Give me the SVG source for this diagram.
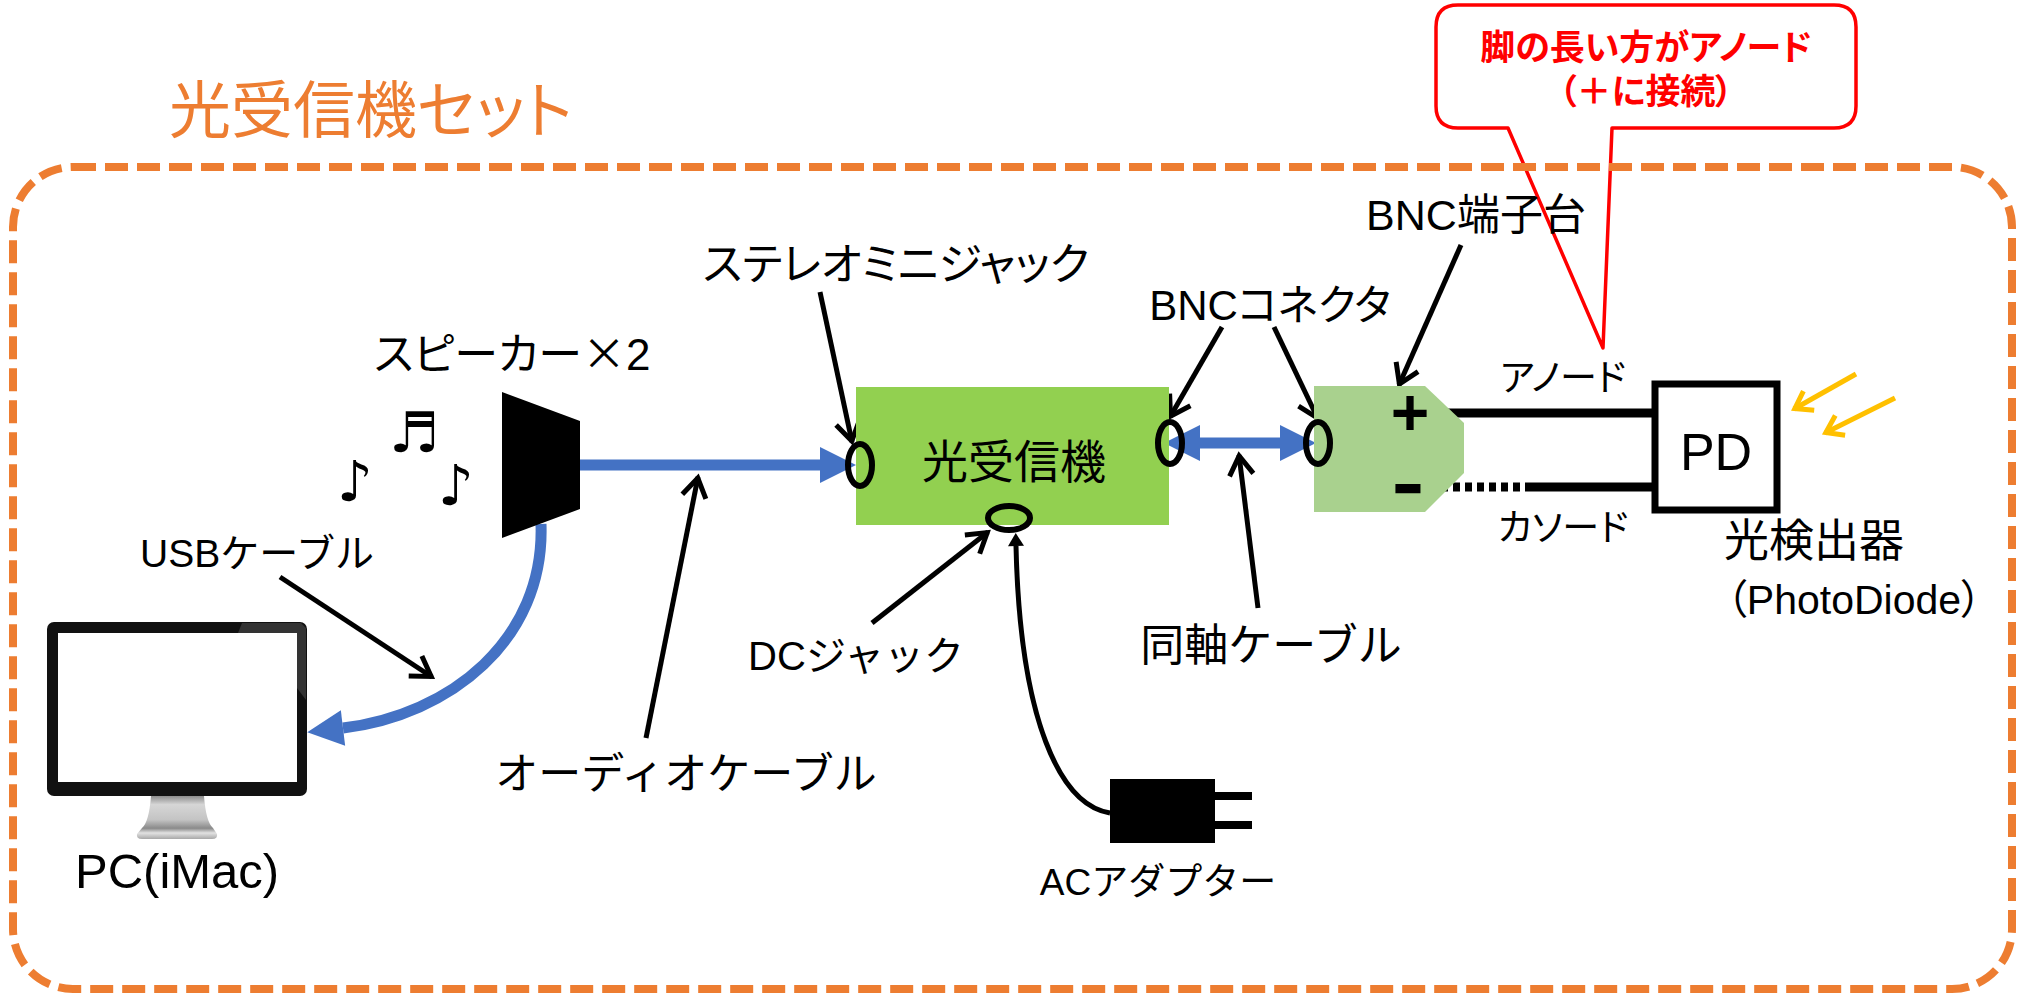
<svg xmlns="http://www.w3.org/2000/svg" width="2018" height="993" viewBox="0 0 2018 993">
  <style>
    .t { font-family: "Liberation Sans", "Noto Sans CJK JP", sans-serif; fill: #000; font-feature-settings: "palt"; }
    .np { font-feature-settings: normal; }
    .cjk { font-family: "Noto Sans CJK JP", sans-serif; }
    .mid { text-anchor: middle; }
    .note { font-family: "DejaVu Sans", sans-serif; fill: #000; }
    .ptr { fill: none; stroke: #000; stroke-width: 5; marker-end: url(#openHead); }
    .ray { fill: none; stroke: #FFC000; stroke-width: 5; marker-end: url(#rayHead); }
    .cable { fill: none; stroke: #4472C4; stroke-width: 11; }
    .jack { fill: none; stroke: #000; stroke-width: 6; }
  </style>
  <defs>
    <marker id="openHead" markerUnits="userSpaceOnUse" viewBox="-30 -20 40 40" markerWidth="40" markerHeight="40" refX="0" refY="0" orient="auto">
      <path d="M-20,-12 L-1,0 L-20,12" fill="none" stroke="#000" stroke-width="5"/>
    </marker>
    <marker id="rayHead" markerUnits="userSpaceOnUse" viewBox="-30 -20 40 40" markerWidth="40" markerHeight="40" refX="0" refY="0" orient="auto">
      <path d="M-17,-11 L-1,0 L-17,11" fill="none" stroke="#FFC000" stroke-width="5"/>
    </marker>
    <marker id="blueHead" markerUnits="userSpaceOnUse" viewBox="-2 -20 40 40" markerWidth="40" markerHeight="40" refX="0" refY="0" orient="auto-start-reverse">
      <path d="M0,-18 L36,0 L0,18 Z" fill="#4472C4"/>
    </marker>
    <marker id="cordHead" markerUnits="userSpaceOnUse" viewBox="-2 -12 20 24" markerWidth="20" markerHeight="24" refX="0" refY="0" orient="auto">
      <path d="M0,-8 L13,0 L0,8 Z" fill="#000"/>
    </marker>
    <linearGradient id="standGrad" x1="0" y1="0" x2="0" y2="1">
      <stop offset="0" stop-color="#8c8c8c"/>
      <stop offset="0.2" stop-color="#d6d6d6"/>
      <stop offset="0.55" stop-color="#c4c4c4"/>
      <stop offset="0.75" stop-color="#8a8a8a"/>
      <stop offset="0.86" stop-color="#e2e2e2"/>
      <stop offset="1" stop-color="#a8a8a8"/>
    </linearGradient>
  </defs>

  <rect width="2018" height="993" fill="#fff"/>

  <!-- callout about the photodiode leads -->
  <g id="callout">
    <path d="M1458,5 H1834 Q1856,5 1856,27 V106 Q1856,128 1834,128 H1612 L1603,348 L1508,128 H1458 Q1436,128 1436,106 V27 Q1436,5 1458,5 Z" fill="#fff" stroke="#FF0000" stroke-width="3.5" stroke-linejoin="round"/>
    <text x="1646" y="60" class="t mid" style="fill:#FF0000;font-weight:700;font-size:35px">脚の長い方がアノード</text>
    <text x="1646" y="104" class="t mid" style="fill:#FF0000;font-weight:700;font-size:35px">（＋に接続）</text>
  </g>

  <!-- set boundary -->
  <g id="set-frame">
    <rect x="13" y="167" width="1999" height="822" rx="60" ry="60" fill="none" stroke="#ED7D31" stroke-width="8" stroke-dasharray="23 9"/>
    <text x="169" y="133" class="t" style="fill:#ED7D31;font-size:62px">光受信機セット</text>
  </g>

  <!-- connectors -->
  <g id="connectors">
    <!-- audio cable: speaker to stereo mini jack -->
    <line x1="580" y1="465" x2="820" y2="465" class="cable" marker-end="url(#blueHead)"/>
    <!-- USB cable: speaker to PC -->
    <path d="M541,524 C545,640 450,715 343,728" class="cable" marker-end="url(#blueHead)"/>
    <!-- coaxial cable between BNC connectors -->
    <line x1="1200" y1="443" x2="1280" y2="443" class="cable" marker-start="url(#blueHead)" marker-end="url(#blueHead)"/>
    <!-- AC adapter cord -->
    <path d="M1110,813 C1060,805 1020,720 1016,546" fill="none" stroke="#000" stroke-width="5" marker-end="url(#cordHead)"/>
    <!-- photodiode leads -->
    <line x1="1447" y1="413" x2="1655" y2="413" stroke="#000" stroke-width="9"/>
    <line x1="1441" y1="487" x2="1526" y2="487" stroke="#000" stroke-width="9" stroke-dasharray="7 5"/>
    <line x1="1526" y1="487" x2="1655" y2="487" stroke="#000" stroke-width="9"/>
    <!-- label pointers -->
    <line x1="820" y1="292" x2="852" y2="442" class="ptr"/>
    <line x1="1222" y1="327" x2="1170" y2="417" class="ptr"/>
    <line x1="1274" y1="327" x2="1318" y2="419" class="ptr"/>
    <line x1="1461" y1="245" x2="1399" y2="385" class="ptr"/>
    <line x1="1258" y1="608" x2="1239" y2="455" class="ptr"/>
    <line x1="872" y1="623" x2="988" y2="532" class="ptr"/>
    <line x1="646" y1="738" x2="698" y2="477" class="ptr"/>
    <line x1="280" y1="577" x2="432" y2="677" class="ptr"/>
    <!-- incoming light -->
    <line x1="1856" y1="374" x2="1794" y2="409" class="ray"/>
    <line x1="1895" y1="398" x2="1825" y2="433" class="ray"/>
  </g>

  <!-- PC -->
  <g id="pc">
    <rect x="47" y="622" width="260" height="174" rx="7" fill="#111"/>
    <polygon points="242,623 301,623 306,628 306,700 297,688 297,633 238,633" fill="#333"/>
    <rect x="58" y="633" width="239" height="149" fill="#fff"/>
    <path d="M151,796 L204,796 Q206,822 213,828 L217,834 Q218,839 212,839 L142,839 Q136,839 137,834 L142,828 Q149,822 151,796 Z" fill="url(#standGrad)"/>
    <text x="75" y="888" class="t" style="font-size:49px">PC(iMac)</text>
  </g>

  <!-- speaker -->
  <g id="speaker">
    <polygon points="502,392 580,421 580,509 502,538" fill="#000"/>
    <text x="374" y="370" class="t" style="font-size:44px">スピーカー<tspan class="cjk">×</tspan>2</text>
    <text x="389" y="452" class="note" style="font-size:56px">♬</text>
    <text x="337" y="501" class="note" style="font-size:56px">♪</text>
    <text x="438" y="505" class="note" style="font-size:56px">♪</text>
  </g>

  <!-- optical receiver -->
  <g id="receiver">
    <rect x="856" y="387" width="313" height="138" fill="#92D050"/>
    <text x="1014" y="478" class="t mid" style="font-size:46px">光受信機</text>
    <ellipse cx="860" cy="465" rx="12" ry="21" class="jack"/>
    <ellipse cx="1170" cy="443" rx="12" ry="21" class="jack"/>
    <ellipse cx="1009" cy="518" rx="21" ry="12" class="jack"/>
  </g>

  <!-- BNC terminal block -->
  <g id="bnc-terminal">
    <polygon points="1314,386 1425,386 1464,423 1464,473 1425,512 1314,512" fill="#A9D18E"/>
    <ellipse cx="1318" cy="443" rx="12" ry="21" class="jack"/>
    <text x="1410" y="435" class="t mid" style="font-size:66px;font-weight:700">+</text>
    <text transform="translate(1408,503) scale(1.5,1)" x="0" y="0" class="t mid" style="font-size:56px;font-weight:700;stroke:#000;stroke-width:2.5">-</text>
  </g>

  <!-- photodiode -->
  <g id="photodiode">
    <rect x="1655" y="384" width="122" height="126" fill="#fff" stroke="#000" stroke-width="7"/>
    <text x="1716" y="470" class="t mid" style="font-size:52px">PD</text>
    <text x="1563" y="391" class="t mid" style="font-size:37px">アノード</text>
    <text x="1563" y="541" class="t mid" style="font-size:37px">カソード</text>
    <text x="1724" y="557" class="t" style="font-size:45px">光検出器</text>
    <text x="1854" y="614" class="t mid" style="font-size:41px">（PhotoDiode）</text>
  </g>

  <!-- AC adapter -->
  <g id="ac-adapter">
    <rect x="1110" y="779" width="105" height="64" fill="#000"/>
    <rect x="1215" y="792" width="37" height="8" fill="#000"/>
    <rect x="1215" y="821" width="37" height="8" fill="#000"/>
    <text x="1158" y="895" class="t np mid" style="font-size:37px">ACアダプター</text>
  </g>

  <!-- labels -->
  <g id="labels">
    <text x="896" y="280" class="t mid" style="font-size:44px">ステレオミニジャック</text>
    <text x="1270" y="320" class="t mid" style="font-size:42px">BNCコネクタ</text>
    <text x="1476" y="230" class="t mid" style="font-size:43px">BNC端子台</text>
    <text x="257" y="567" class="t np mid" style="font-size:39px">USBケーブル</text>
    <text x="856" y="670" class="t np mid" style="font-size:40px">DCジャック</text>
    <text x="1271" y="661" class="t np mid" style="font-size:44px">同軸ケーブル</text>
    <text x="686" y="789" class="t np mid" style="font-size:43px">オーディオケーブル</text>
  </g>
</svg>
